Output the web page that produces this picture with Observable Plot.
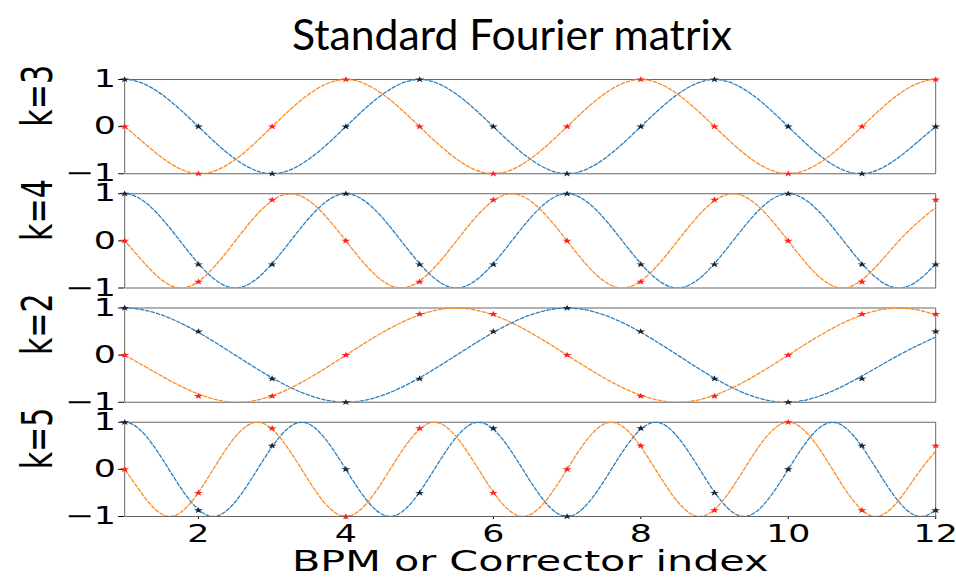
<!DOCTYPE html>
<html><head><meta charset="utf-8">
<script src="https://cdn.jsdelivr.net/npm/d3@7"></script>
<script src="https://cdn.jsdelivr.net/npm/@observablehq/plot@0.6"></script>
<style>
html,body{margin:0;padding:0;background:#fff}
body{width:956px;height:579px;overflow:hidden;position:relative}
#title{position:absolute;top:12px;left:0;white-space:nowrap;font-family:Lato,"Open Sans",sans-serif;font-size:43px;line-height:1;color:#000;transform-origin:0 0}
#chart{position:absolute;top:62px;left:0}
#chart svg path,#chart svg line,#chart svg rect{vector-effect:non-scaling-stroke}
</style></head><body>
<div id="title">Standard Fourier matrix</div>
<div id="chart"></div>
<script>
// ---- data ----
const panels = ["k=3", "k=4", "k=2", "k=5"];
const xTicks = [2, 4, 6, 8, 10, 12];
const yTicks = [-1, 0, 1];
const xLabel = "BPM or Corrector index";
const titleText = "Standard Fourier matrix";

// sampled markers at integer indices 1..12
const sampleX = [1, 2, 3, 4, 5, 6, 7, 8, 9, 10, 11, 12];
const markCos_k3 = [1, 0, -1, 0, 1, 0, -1, 0, 1, 0, -1, 0];
const markSin_k3 = [0, -1, 0, 1, 0, -1, 0, 1, 0, -1, 0, 1];
const markCos_k4 = [1, -0.5, -0.5, 1, -0.5, -0.5, 1, -0.5, -0.5, 1, -0.5, -0.5];
const markSin_k4 = [0, -0.87, 0.87, 0, -0.87, 0.87, 0, -0.87, 0.87, 0, -0.87, 0.87];
const markCos_k2 = [1, 0.5, -0.5, -1, -0.5, 0.5, 1, 0.5, -0.5, -1, -0.5, 0.5];
const markSin_k2 = [0, -0.87, -0.87, 0, 0.87, 0.87, 0, -0.87, -0.87, 0, 0.87, 0.87];
const markCos_k5 = [1, -0.87, 0.5, 0, -0.5, 0.87, -1, 0.87, -0.5, 0, 0.5, -0.87];
const markSin_k5 = [0, -0.5, 0.87, -1, 0.87, -0.5, 0, 0.5, -0.87, 1, -0.87, 0.5];

// dashed curves: peaks, troughs and zero crossings
const keyX_k3 = [0, 1, 2, 3, 4, 5, 6, 7, 8, 9, 10, 11, 12, 13];
const keyCos_k3 = [0, 1, 0, -1, 0, 1, 0, -1, 0, 1, 0, -1, 0, 1];
const keySin_k3 = [1, 0, -1, 0, 1, 0, -1, 0, 1, 0, -1, 0, 1, 0];
const keyX_k4 = [0.25, 1, 1.75, 2.5, 3.25, 4, 4.75, 5.5, 6.25, 7, 7.75, 8.5, 9.25, 10, 10.75, 11.5, 12.25];
const keyCos_k4 = [0, 1, 0, -1, 0, 1, 0, -1, 0, 1, 0, -1, 0, 1, 0, -1, 0];
const keySin_k4 = [1, 0, -1, 0, 1, 0, -1, 0, 1, 0, -1, 0, 1, 0, -1, 0, 1];
const keyX_k2 = [-0.5, 1, 2.5, 4, 5.5, 7, 8.5, 10, 11.5, 13];
const keyCos_k2 = [0, 1, 0, -1, 0, 1, 0, -1, 0, 1];
const keySin_k2 = [1, 0, -1, 0, 1, 0, -1, 0, 1, 0];
const keyX_k5 = [0.4, 1, 1.6, 2.2, 2.8, 3.4, 4, 4.6, 5.2, 5.8, 6.4, 7, 7.6, 8.2, 8.8, 9.4, 10, 10.6, 11.2, 11.8, 12.4];
const keyCos_k5 = [0, 1, 0, -1, 0, 1, 0, -1, 0, 1, 0, -1, 0, 1, 0, -1, 0, 1, 0, -1, 0];
const keySin_k5 = [1, 0, -1, 0, 1, 0, -1, 0, 1, 0, -1, 0, 1, 0, -1, 0, 1, 0, -1, 0, 1];

// ---- tables ----
const toRows = (k, xs, ys) => xs.map((x, i) => ({k, x, y: ys[i]}));
const cosMarks = [].concat(
  toRows("k=3", sampleX, markCos_k3), toRows("k=4", sampleX, markCos_k4),
  toRows("k=2", sampleX, markCos_k2), toRows("k=5", sampleX, markCos_k5));
const sinMarks = [].concat(
  toRows("k=3", sampleX, markSin_k3), toRows("k=4", sampleX, markSin_k4),
  toRows("k=2", sampleX, markSin_k2), toRows("k=5", sampleX, markSin_k5));
const cosCurve = [].concat(
  toRows("k=3", keyX_k3, keyCos_k3), toRows("k=4", keyX_k4, keyCos_k4),
  toRows("k=2", keyX_k2, keyCos_k2), toRows("k=5", keyX_k5, keyCos_k5));
const sinCurve = [].concat(
  toRows("k=3", keyX_k3, keySin_k3), toRows("k=4", keyX_k4, keySin_k4),
  toRows("k=2", keyX_k2, keySin_k2), toRows("k=5", keyX_k5, keySin_k5));

// ---- layout (source figure is stretched horizontally) ----
const stretch = 1.45;
const W = 956 / stretch, H = 517;

const chart = Plot.plot({
  width: W, height: H,
  marginLeft: 85.5, marginRight: 14.5, marginTop: 17, marginBottom: 63,
  style: {fontFamily: "DejaVu Sans", fontSize: "24px", color: "#000", background: "transparent", overflow: "visible"},
  x: {domain: [1, 12], ticks: xTicks, tickSize: 3, tickPadding: 5.5, label: null},
  y: {domain: [-1, 1], ticks: yTicks, tickSize: 4, tickPadding: 2, label: null, tickFormat: d => d < 0 ? "\u2212" + Math.abs(d) : String(d)},
  fy: {domain: panels, paddingInner: 0.175, paddingOuter: 0, round: false, axis: null, label: null},
  marks: [
    Plot.frame({stroke: "#666", strokeWidth: 1}),
    Plot.line(cosCurve, {x: "x", y: "y", fy: "k", stroke: "#2a7fbf", strokeWidth: 1.3, strokeDasharray: "3.5,2", curve: "natural", clip: true}),
    Plot.line(sinCurve, {x: "x", y: "y", fy: "k", stroke: "#ff8a22", strokeWidth: 1.3, strokeDasharray: "3.5,2", curve: "natural", clip: true}),
    Plot.dot(cosMarks, {x: "x", y: "y", fy: "k", symbol: "star", r: 2, fill: "#1b2430"}),
    Plot.dot(sinMarks, {x: "x", y: "y", fy: "k", symbol: "star", r: 2, fill: "#ff2020"}),
    Plot.text(panels, {fy: d => d, text: d => d, frameAnchor: "left", dx: -60, rotate: -90, fontSize: 30}),
    Plot.text([xLabel], {fy: () => "k=5", text: d => d, frameAnchor: "bottom", lineAnchor: "top", dy: 34, fontSize: 28.5})
  ]
});
chart.setAttribute("preserveAspectRatio", "none");
chart.setAttribute("width", 956);
chart.setAttribute("height", H);
chart.style.width = "956px";
chart.style.height = H + "px";
chart.style.maxWidth = "none";
document.getElementById("chart").appendChild(chart);

// title
const t = document.getElementById("title");
t.textContent = titleText;
const tw = t.getBoundingClientRect().width;
const targetW = 440;
t.style.transform = `scaleX(${targetW / tw})`;
t.style.left = (512 - targetW / 2) + "px";
</script>
</body></html>
